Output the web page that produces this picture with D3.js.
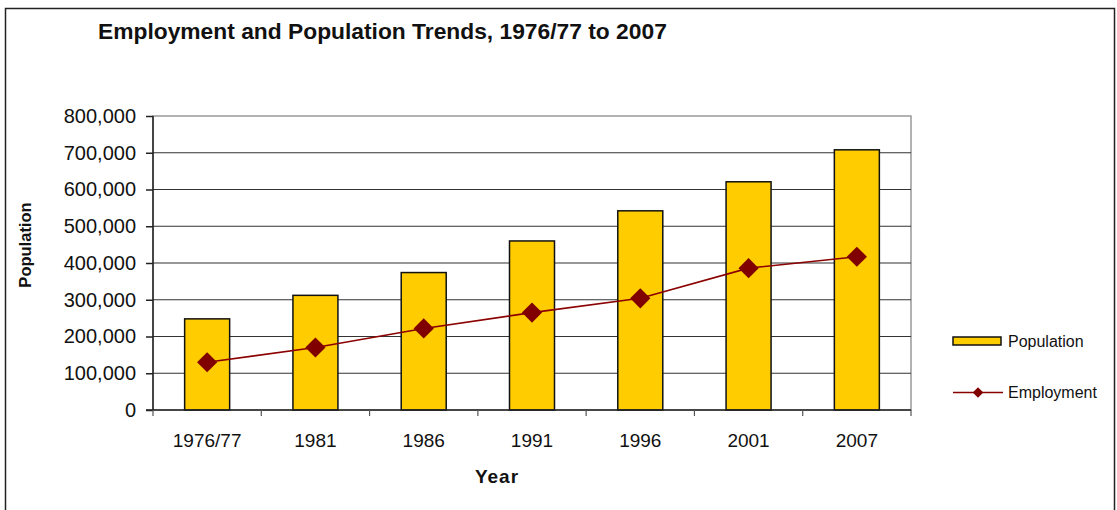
<!DOCTYPE html>
<html>
<head>
	<script src="https://cdn.jsdelivr.net/npm/d3@7/dist/d3.min.js"></script>
	<style>
		body { margin: 0; background: #fff; }
		svg { font-family: "Liberation Sans", Arial, sans-serif; }
	</style>
</head>
<body>
	<div id="chart"></div>
	<script>
		// data
		var years = ["1976/77", "1981", "1986", "1991", "1996", "2001", "2007"];
		var population = [248000, 312000, 374000, 460000, 542000, 621000, 708000];
		var employment = [130000, 170000, 222000, 265000, 304000, 386000, 417000];
		var yTicks = [0, 100000, 200000, 300000, 400000, 500000, 600000, 700000, 800000];

		var width = 1117, height = 510;
		var plot = { left: 153, top: 116, right: 911, bottom: 410 };

		var svg = d3.select("#chart").append("svg")
			.attr("width", width)
			.attr("height", height);

		// outer frame
		svg.append("rect")
			.attr("x", 5.5).attr("y", 8.5)
			.attr("width", 1109).attr("height", 505)
			.attr("fill", "none").attr("stroke", "#222").attr("stroke-width", 1.5);

		var x = d3.scaleBand()
			.domain(years)
			.range([plot.left, plot.right]);

		var y = d3.scaleLinear()
			.domain([0, 800000])
			.range([plot.bottom, plot.top]);

		// plot area border (light)
		svg.append("rect")
			.attr("x", plot.left).attr("y", plot.top)
			.attr("width", plot.right - plot.left).attr("height", plot.bottom - plot.top)
			.attr("fill", "none").attr("stroke", "#999").attr("stroke-width", 1.5);

		// gridlines
		svg.append("g")
			.selectAll("line")
			.data(yTicks.filter(function (d) { return d > 0 && d < 800000; }))
			.enter().append("line")
			.attr("x1", plot.left).attr("x2", plot.right)
			.attr("y1", function (d) { return y(d); })
			.attr("y2", function (d) { return y(d); })
			.attr("stroke", "#333").attr("stroke-width", 1.2);

		// bars
		var barW = 45;
		svg.append("g")
			.selectAll("rect")
			.data(population)
			.enter().append("rect")
			.attr("x", function (d, i) { return x(years[i]) + x.bandwidth() / 2 - barW / 2; })
			.attr("y", function (d) { return y(d); })
			.attr("width", barW)
			.attr("height", function (d) { return y(0) - y(d); })
			.attr("fill", "#FFCC00")
			.attr("stroke", "#111")
			.attr("stroke-width", 1.5);

		// y axis
		var yAxis = d3.axisLeft(y)
			.tickValues(yTicks)
			.tickSize(7)
			.tickPadding(10)
			.tickFormat(function (d) { return d === 0 ? "0" : d3.format(",")(d); });

		var gy = svg.append("g")
			.attr("transform", "translate(" + plot.left + ",0)")
			.call(yAxis);
		gy.select(".domain").attr("stroke", "#222").attr("stroke-width", 1.5).attr("d", "M0," + plot.top + "V" + plot.bottom);
		gy.selectAll(".tick line").attr("stroke", "#222").attr("stroke-width", 1.5);
		gy.selectAll("text").attr("font-size", 20).attr("fill", "#111").attr("font-family", "Liberation Sans, Arial, sans-serif");

		// x axis with ticks at category boundaries
		var gx = svg.append("g");
		gx.append("line")
			.attr("x1", plot.left - 7).attr("x2", plot.right)
			.attr("y1", plot.bottom).attr("y2", plot.bottom)
			.attr("stroke", "#222").attr("stroke-width", 1.5);
		gx.selectAll(".xt")
			.data(years.concat(["end"]))
			.enter().append("line")
			.attr("x1", function (d, i) { return plot.left + i * x.step(); })
			.attr("x2", function (d, i) { return plot.left + i * x.step(); })
			.attr("y1", plot.bottom).attr("y2", plot.bottom + 6)
			.attr("stroke", "#555").attr("stroke-width", 1.2);
		gx.selectAll("text")
			.data(years)
			.enter().append("text")
			.attr("x", function (d) { return x(d) + x.bandwidth() / 2; })
			.attr("y", 447)
			.attr("text-anchor", "middle")
			.attr("font-size", 19)
			.attr("fill", "#111")
			.text(function (d) { return d; });

		// employment line
		var line = d3.line()
			.x(function (d, i) { return x(years[i]) + x.bandwidth() / 2; })
			.y(function (d) { return y(d); });

		svg.append("path")
			.datum(employment)
			.attr("d", line)
			.attr("fill", "none")
			.attr("stroke", "#8B0000")
			.attr("stroke-width", 1.6);

		var diamond = d3.symbol().type(d3.symbolDiamond2).size(260);
		svg.append("g")
			.selectAll("path")
			.data(employment)
			.enter().append("path")
			.attr("d", diamond)
			.attr("transform", function (d, i) {
				return "translate(" + (x(years[i]) + x.bandwidth() / 2) + "," + y(d) + ")";
			})
			.attr("fill", "#800000");

		// titles
		svg.append("text")
			.attr("x", 98).attr("y", 39)
			.attr("font-size", 22.8).attr("font-weight", "bold").attr("fill", "#111")
			.text("Employment and Population Trends, 1976/77 to 2007");

		svg.append("text")
			.attr("x", 497).attr("y", 483)
			.attr("text-anchor", "middle")
			.attr("font-size", 19).attr("font-weight", "bold").attr("letter-spacing", 1).attr("fill", "#111")
			.text("Year");

		svg.append("text")
			.attr("transform", "translate(31,245) rotate(-90)")
			.attr("text-anchor", "middle")
			.attr("font-size", 16.5).attr("font-weight", "bold").attr("fill", "#111")
			.text("Population");

		// legend
		var lg = svg.append("g");
		lg.append("rect")
			.attr("x", 953).attr("y", 337)
			.attr("width", 48).attr("height", 8)
			.attr("fill", "#FFCC00").attr("stroke", "#111").attr("stroke-width", 1.5);
		lg.append("text")
			.attr("x", 1008).attr("y", 347)
			.attr("font-size", 16).attr("fill", "#111")
			.text("Population");
		lg.append("line")
			.attr("x1", 953).attr("x2", 1003)
			.attr("y1", 392.5).attr("y2", 392.5)
			.attr("stroke", "#8B0000").attr("stroke-width", 1.6);
		lg.append("path")
			.attr("d", d3.symbol().type(d3.symbolDiamond2).size(70))
			.attr("transform", "translate(978,392.5)")
			.attr("fill", "#800000");
		lg.append("text")
			.attr("x", 1008).attr("y", 398)
			.attr("font-size", 16).attr("fill", "#111")
			.text("Employment");
	</script>
</body>
</html>
